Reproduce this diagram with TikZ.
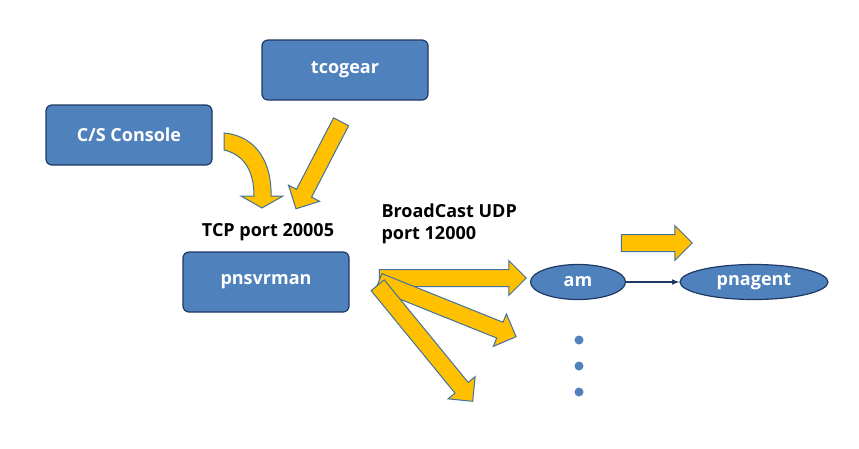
\documentclass[tikz,border=0pt]{standalone}
\usepackage{fontspec}
\setmainfont{Open Sans}[BoldFont={Open Sans Bold}]
\usetikzlibrary{shapes.arrows,shapes.geometric}
\definecolor{boxblue}{HTML}{4F81BD}
\definecolor{boxline}{HTML}{1F3864}
\definecolor{arrowgold}{HTML}{FFC000}
\definecolor{arrowline}{HTML}{41719C}
\tikzset{
  box/.style={draw=boxline,line width=1.2pt,fill=boxblue,rounded corners=6pt,
    minimum width=166pt,minimum height=60pt,text=white,font=\fontsize{18}{20}\selectfont\bfseries},
  oval/.style={ellipse,draw=boxline,line width=1.2pt,fill=boxblue,minimum height=35pt,
    inner sep=0pt,text=white,font=\fontsize{18}{20}\selectfont\bfseries},
  fat/.style={single arrow,draw=arrowline,line width=1pt,fill=arrowgold,inner sep=8pt,
    text width=0pt,text height=0pt,text depth=0pt,
    single arrow head extend=9pt,single arrow head indent=0pt},
  lbl/.style={font=\fontsize{18}{22}\selectfont\bfseries,align=left},
  dot/.style={circle,fill=boxblue,inner sep=0pt,minimum size=9pt}
}
\begin{document}
\begin{tikzpicture}[x=1pt,y=-1pt]
  \useasboundingbox (0,0) rectangle (859,448);
  \node[box] (tco) at (345,70) {tcogear};
  \node[box] (cs) at (129,135) {C/S Console};
  \node[box] (svr) at (266,282) {pnsvrman};
  \node[oval,minimum width=95pt] (am) at (578,282) {am};
  \node[oval,minimum width=148pt] (agent) at (754,282) {pnagent};
  \node[dot] (d1) at (579,340) {};
  \node[dot] (d2) at (579,366) {};
  \node[dot] (d3) at (579,392) {};

  \node[lbl] (tcp) at (268,232) {TCP port 20005};
  \node[lbl,anchor=north west] (udp) at (378,200) {BroadCast UDP\\port 12000};

  % incoming
  \draw[draw=arrowline,line width=1pt,fill=arrowgold]
    (224,133) .. controls (258,136) and (272,165) .. (271,196) -- (283,196)
    -- (262,208) -- (241,196) -- (254,196)
    .. controls (254,172) and (245,155) .. (224,150) -- cycle;
  \node[fat,minimum height=98pt,rotate=242.6] (a1) at (320.5,161.5) {};

  % broadcast
  \node[fat,minimum height=147pt] (b1) at (448.5,278) {};
  \node[fat,minimum height=148pt,rotate=-21.9] (b2) at (443.5,307.5) {};
  \node[fat,minimum height=150pt,rotate=-50.7] (b3) at (422.5,340) {};
  \node[fat,minimum height=71pt] (b4) at (652.5,243) {};

  \draw[-latex,draw=boxline,line width=1.5pt] (am) -- (agent);
\end{tikzpicture}
\end{document}
